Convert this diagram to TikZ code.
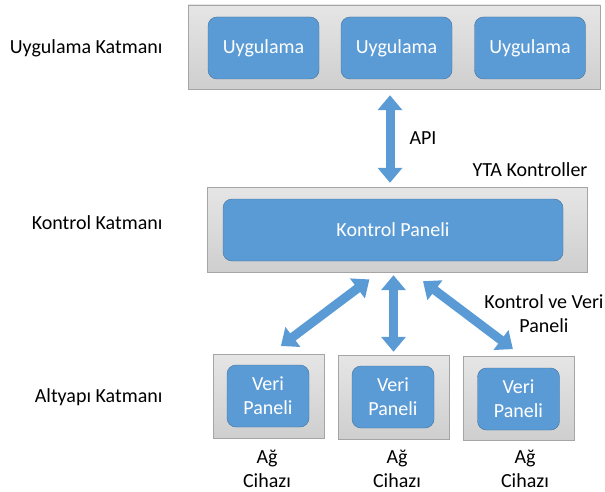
\documentclass[tikz,border=0pt]{standalone}
\usepackage{fontspec}
\setmainfont{Carlito}
\usetikzlibrary{arrows.meta}
\definecolor{boxblue}{HTML}{5B9BD5}
\definecolor{boxedge}{HTML}{41719C}
\definecolor{layeredge}{HTML}{A5A5A5}
\begin{document}
\begin{tikzpicture}[x=1pt, y=-1pt,
    font=\fontsize{20}{24}\selectfont,
    layer/.style={draw=layeredge, top color=gray!20, bottom color=gray!38, inner sep=0pt},
    unit/.style={draw=boxedge, fill=boxblue, rounded corners=9pt, text=white, align=center, inner sep=0pt, minimum height=62pt},
    biarrow/.style={boxblue, line width=9pt, {Triangle[width=24pt,length=15pt]}-{Triangle[width=24pt,length=15pt]}}
]
    \useasboundingbox (0,0) rectangle (605,492);

    % Application layer
    \node[layer, minimum width=412pt, minimum height=84pt] (app) at (394,47) {};
    \node[unit, minimum width=111pt] (app1) at (263.5,48) {Uygulama};
    \node[unit, minimum width=111pt] (app2) at (396.5,48) {Uygulama};
    \node[unit, minimum width=111pt] (app3) at (530,48) {Uygulama};

    % Control layer
    \node[layer, minimum width=380pt, minimum height=85pt] (ctrl) at (397,229.5) {};
    \node[unit, minimum width=340pt] (kp) at (393,230) {Kontrol Paneli};

    % Infrastructure layer
    \node[layer, minimum width=111pt, minimum height=84pt] (dev1) at (268.5,396) {};
    \node[layer, minimum width=111pt, minimum height=84pt] (dev2) at (393.5,397) {};
    \node[layer, minimum width=111pt, minimum height=84pt] (dev3) at (518.5,398.5) {};
    \node[unit, minimum width=82pt] (vp1) at (268,396) {Veri\\Paneli};
    \node[unit, minimum width=82pt] (vp2) at (393,397) {Veri\\Paneli};
    \node[unit, minimum width=82pt] (vp3) at (518.5,399) {Veri\\Paneli};
    \node[align=center] (ag1) at (267,469) {Ağ\\Cihazı};
    \node[align=center] (ag2) at (397,469) {Ağ\\Cihazı};
    \node[align=center] (ag3) at (525,469) {Ağ\\Cihazı};

    % Arrows
    \draw[biarrow, shorten <=6pt, shorten >=4pt] (app.south -| 390,0) -- (ctrl.north -| 390,0);
    \draw[biarrow, shorten <=12pt, shorten >=13pt] ([xshift=-18pt]ctrl.south) -- ([xshift=2pt]dev1.north);
    \draw[biarrow, shorten <=3pt, shorten >=3pt] (ctrl.south -| dev2.north) -- (dev2.north);
    \draw[biarrow, shorten <=15pt, shorten >=12pt] ([xshift=14pt]ctrl.south) -- ([xshift=4pt]dev3.north);

    % Labels
    \node[anchor=east] (lapp) at (166,48) {Uygulama Katmanı};
    \node[anchor=east] (lctrl) at (166,223) {Kontrol Katmanı};
    \node[anchor=east] (linf) at (166,397) {Altyapı Katmanı};
    \node (api) at (423,138) {API};
    \node (yta) at (530,170) {YTA Kontroller};
    \node[align=center] (kvp) at (544,314) {Kontrol ve Veri\\Paneli};
\end{tikzpicture}
\end{document}
